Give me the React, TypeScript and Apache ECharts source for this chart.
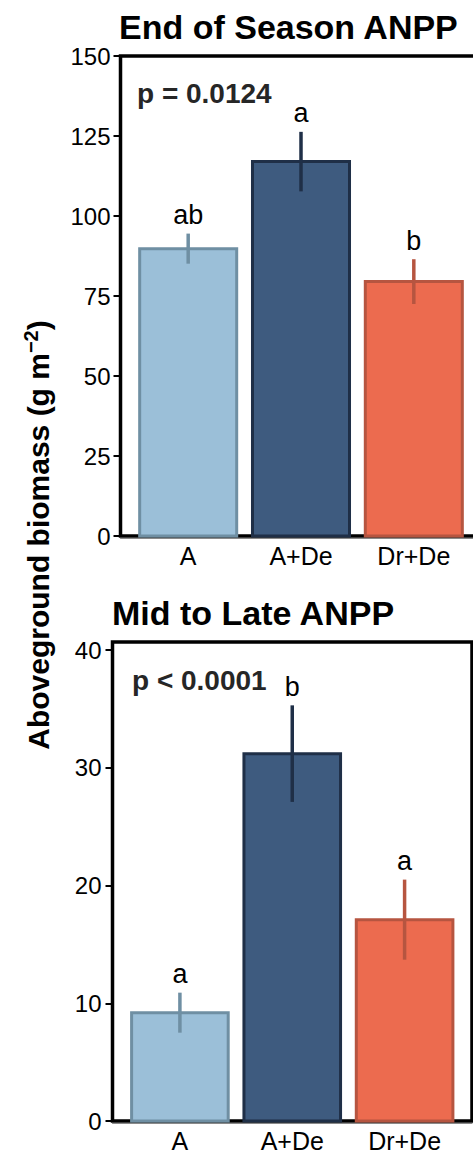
import React, { useEffect, useRef } from 'react';
import * as echarts from 'echarts';

// Treatments shared by both panels
const categories = ['A', 'A+De', 'Dr+De'];

// End of season ANPP (g m-2): means, standard errors, post-hoc letters
const endMeans = [89.8, 117.0, 79.5];
const endErrors = [4.7, 9.3, 7.0];
const endLetters = ['ab', 'a', 'b'];
const endTicks = [0, 25, 50, 75, 100, 125, 150];

// Mid to late ANPP (g m-2)
const midMeans = [9.2, 31.2, 17.1];
const midErrors = [1.7, 4.1, 3.4];
const midLetters = ['a', 'b', 'a'];
const midTicks = [0, 10, 20, 30, 40];

const fills = ['#9BBFD8', '#3E5B7F', '#EC6B4F'];
const edges = ['#6F8FA3', '#1F2F47', '#B65540'];

const FONT = '"Liberation Sans", Arial, Helvetica, sans-serif';

const makeRenderer = (letters: string[]) => (params: any, api: any) => {
  const i = params.dataIndex;
  const x = api.value(0);
  const mean = api.value(1);
  const err = api.value(2);
  const tl = api.coord([x - 0.43, mean]);
  const br = api.coord([x + 0.43, 0]);
  const top = api.coord([x, mean + err]);
  const bot = api.coord([x, mean - err]);
  return {
    type: 'group',
    children: [
      {
        type: 'rect',
        shape: { x: tl[0], y: tl[1], width: br[0] - tl[0], height: br[1] - tl[1] },
        style: { fill: fills[i], stroke: edges[i], lineWidth: 3 },
      },
      {
        type: 'line',
        shape: { x1: top[0], y1: top[1], x2: bot[0], y2: bot[1] },
        style: { stroke: edges[i], lineWidth: 3.5 },
      },
      {
        type: 'text',
        x: top[0],
        y: top[1] - 5,
        style: {
          text: letters[i],
          fill: '#000',
          fontSize: 27,
          fontFamily: FONT,
          align: 'center',
          verticalAlign: 'bottom',
        },
      },
    ],
  };
};

const xAxisFor = (gridIndex: number) => ({
  type: 'value',
  gridIndex,
  min: 0.4,
  max: 3.6,
  axisLine: { show: true, onZero: false, lineStyle: { color: '#8a8a8a', width: 1 } },
  offset: 2,
  axisTick: { show: false },
  splitLine: { show: false },
  axisLabel: {
    customValues: categories.map((_, i) => i + 1),
    formatter: (v: number) => categories[Math.round(v) - 1] ?? '',
    fontSize: 25,
    fontFamily: FONT,
    color: '#000',
    margin: 5,
  },
});

const yAxisFor = (gridIndex: number, max: number, ticks: number[], margin: number) => ({
  type: 'value',
  gridIndex,
  min: 0,
  max,
  axisLine: { show: false },
  splitLine: { show: false },
  axisTick: {
    show: true,
    length: 7,
    customValues: ticks,
    lineStyle: { color: '#000', width: 2 },
  },
  axisLabel: {
    customValues: ticks,
    fontSize: 24,
    fontFamily: FONT,
    color: '#000',
    margin,
  },
});

export default function App() {
  const ref = useRef<HTMLDivElement>(null);

  useEffect(() => {
    if (!ref.current) return;
    const chart = echarts.init(ref.current, null, { renderer: 'svg' });
    chart.setOption({
      animation: false,
      backgroundColor: '#fff',
      grid: [
        {
          left: 120.5, top: 56, width: 361, height: 480,
          show: true, borderColor: '#000', borderWidth: 3.5, backgroundColor: 'transparent',
        },
        {
          left: 112.5, top: 642, width: 359.5, height: 481.3,
          show: true, borderColor: '#000', borderWidth: 3.5, backgroundColor: 'transparent',
        },
      ],
      xAxis: [xAxisFor(0), xAxisFor(1)],
      yAxis: [yAxisFor(0, 150, endTicks, 10), yAxisFor(1, 40.68, midTicks, 11)],
      series: [
        {
          type: 'custom',
          xAxisIndex: 0,
          yAxisIndex: 0,
          renderItem: makeRenderer(endLetters),
          data: categories.map((_, i) => [i + 1, endMeans[i], endErrors[i]]),
          z: 1,
        },
        {
          type: 'custom',
          xAxisIndex: 1,
          yAxisIndex: 1,
          renderItem: makeRenderer(midLetters),
          data: categories.map((_, i) => [i + 1, midMeans[i], midErrors[i]]),
          z: 1,
        },
      ],
      graphic: [
        {
          type: 'text', x: 119, y: 27,
          style: {
            text: 'End of Season ANPP', fill: '#000', fontSize: 34, fontWeight: 'bold',
            fontFamily: FONT, align: 'left', verticalAlign: 'middle',
          },
        },
        {
          type: 'text', x: 112, y: 613,
          style: {
            text: 'Mid to Late ANPP', fill: '#000', fontSize: 34, fontWeight: 'bold',
            fontFamily: FONT, align: 'left', verticalAlign: 'middle',
          },
        },
        {
          type: 'text', x: 137, y: 93,
          style: {
            text: 'p = 0.0124', fill: '#262626', fontSize: 28, fontWeight: 'bold',
            fontFamily: FONT, align: 'left', verticalAlign: 'middle',
          },
        },
        {
          type: 'text', x: 132, y: 680,
          style: {
            text: 'p < 0.0001', fill: '#262626', fontSize: 28, fontWeight: 'bold',
            fontFamily: FONT, align: 'left', verticalAlign: 'middle',
          },
        },
        {
          type: 'text', x: 38, y: 535, rotation: Math.PI / 2,
          style: {
            text: '{t|Aboveground biomass (g m}{s|−2}{t|)}',
            align: 'center', verticalAlign: 'middle',
            rich: {
              t: { fontSize: 30, fontWeight: 'bold', fontFamily: FONT, fill: '#000', lineHeight: 34 },
              s: { fontSize: 20, fontWeight: 'bold', fontFamily: FONT, fill: '#000', lineHeight: 18, verticalAlign: 'top' },
            },
          },
        },
      ],
    });
    return () => chart.dispose();
  }, []);

  return (
    <div style={{ position: 'absolute', left: 0, top: 0, width: 473, height: 1153, overflow: 'hidden' }}>
      <div ref={ref} style={{ width: 490, height: 1153 }} />
    </div>
  );
}
